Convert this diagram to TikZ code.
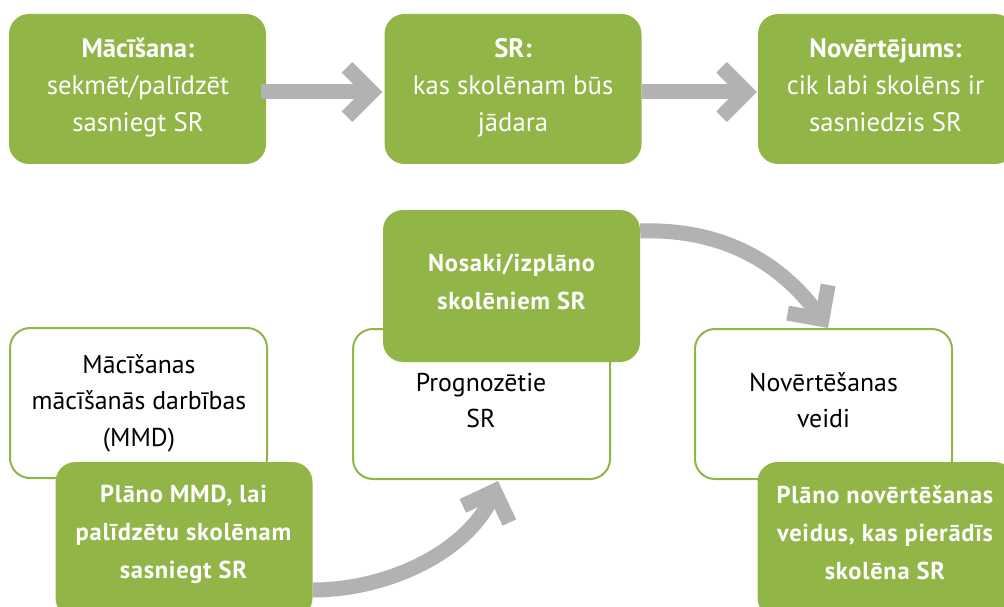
\documentclass[tikz,border=0pt]{standalone}
\usepackage{fontspec}
\setmainfont{PT Sans}
\newfontfamily\planfont[LetterSpace=3]{PT Sans}
\usetikzlibrary{calc,arrows.meta}
\definecolor{leaf}{RGB}{145,181,71}
\definecolor{shaft}{RGB}{178,178,178}
% broad open chevron head for the grey block arrows
\pgfdeclarearrow{
  name = Chevron,
  setup code = {
    \pgfarrowssettipend{0pt}
    \pgfarrowssetlineend{-10pt}
    \pgfarrowssetvisualbackend{-41pt}
    \pgfarrowssetbackend{-41pt}
  },
  drawing code = {
    \pgfpathmoveto{\pgfqpoint{0pt}{0pt}}
    \pgfpathlineto{\pgfqpoint{-30pt}{30pt}}
    \pgfpathlineto{\pgfqpoint{-40.6pt}{19.4pt}}
    \pgfpathlineto{\pgfqpoint{-21.2pt}{0pt}}
    \pgfpathlineto{\pgfqpoint{-40.6pt}{-19.4pt}}
    \pgfpathlineto{\pgfqpoint{-30pt}{-30pt}}
    \pgfpathclose
    \pgfusepathqfill
  }
}
\begin{document}
\begin{tikzpicture}[x=1pt,y=-1pt,
  greenbox/.style={fill=leaf, rounded corners=20pt, minimum width=257pt,
    minimum height=152pt, inner sep=0pt},
  whitebox/.style={draw=leaf, line width=2pt, fill=white, rounded corners=20pt,
    minimum width=257pt, minimum height=150pt, inner sep=0pt},
  label text/.style={inner sep=0pt, align=center,
    execute at begin node=\strut, execute at end node=\strut},
  toptext/.style={label text, text=white, font=\fontsize{26.7}{37}\selectfont},
  whitetext/.style={label text, text=black, font=\fontsize{25.8}{36.3}\selectfont},
  plantext/.style={label text, text=white,
    font=\planfont\bfseries\fontsize{24.5}{38}\selectfont},
  arrowline/.style={line width=15pt, color=shaft, -{Chevron}}
]
\clip (0,0) rectangle (1004,607);

% upper row: teaching -> learning outcomes -> assessment
\node[greenbox, minimum height=150pt] (teach) at (137.5,89) {};
\node[greenbox, minimum height=150pt] (goal) at (513,89) {};
\node[greenbox, minimum height=150pt] (assess) at (886.5,89) {};
\node[toptext] (teach-txt) at (138,90.6)
  {\textbf{Mācīšana:}\\sekmēt/palīdzēt\\sasniegt SR};
\node[toptext] (goal-txt) at (513,90.6)
  {\textbf{SR:}\\kas skolēnam būs\\jādara};
\node[toptext] (assess-txt) at (885.5,90.6)
  {\textbf{Novērtējums:}\\cik labi skolēns ir\\sasniedzis SR};

\draw[arrowline] ($(teach.east)+(-5,3)$) -- ($(goal.west)+(-2,3)$);
\draw[arrowline] ($(goal.east)+(0,3)$) -- ($(assess.west)+(-1,3)$);

% lower row: white topic boxes with green planning boxes on top
\node[whitebox] (acts) at (138.5,403) {};
\node[whitebox] (pred) at (481.5,404) {};
\node[whitebox] (kinds) at (823.5,404) {};
\node[whitetext] (acts-txt) at (139,405.7)
  {Mācīšanas\\mācīšanās darbības\\(MMD)};
\node[whitetext] (pred-txt) at (481,405.7) {Prognozētie\\SR};
\node[whitetext] (kinds-txt) at (823.5,405.7) {Novērtēšanas\\veidi};

\node[greenbox, minimum height=156pt] (planacts) at (184,540) {};
\node[greenbox] (setgoal) at (511.5,286) {};
\node[greenbox, minimum height=156pt] (plankinds) at (886,540) {};
\node[plantext] (planacts-txt) at (183.5,537.7)
  {Plāno MMD, lai\\palīdzētu skolēnam\\sasniegt SR};
\node[plantext] (setgoal-txt) at (511.5,287.7)
  {Nosaki/izplāno\\skolēniem SR};
\node[plantext] (plankinds-txt) at (885,538)
  {Plāno novērtēšanas\\veidus, kas pierādīs\\skolēna SR};

% curved links between the stages
\draw[arrowline] ($(setgoal.east)+(0,-55)$)
  .. controls (700,229) and (771,246) .. ($(kinds.north)+(4.5,0)$);
\draw[arrowline] ($(planacts.east)+(0,50)$)
  .. controls (392,590) and (474,548) .. ($(pred.south)+(16.5,1)$);
\end{tikzpicture}
\end{document}
